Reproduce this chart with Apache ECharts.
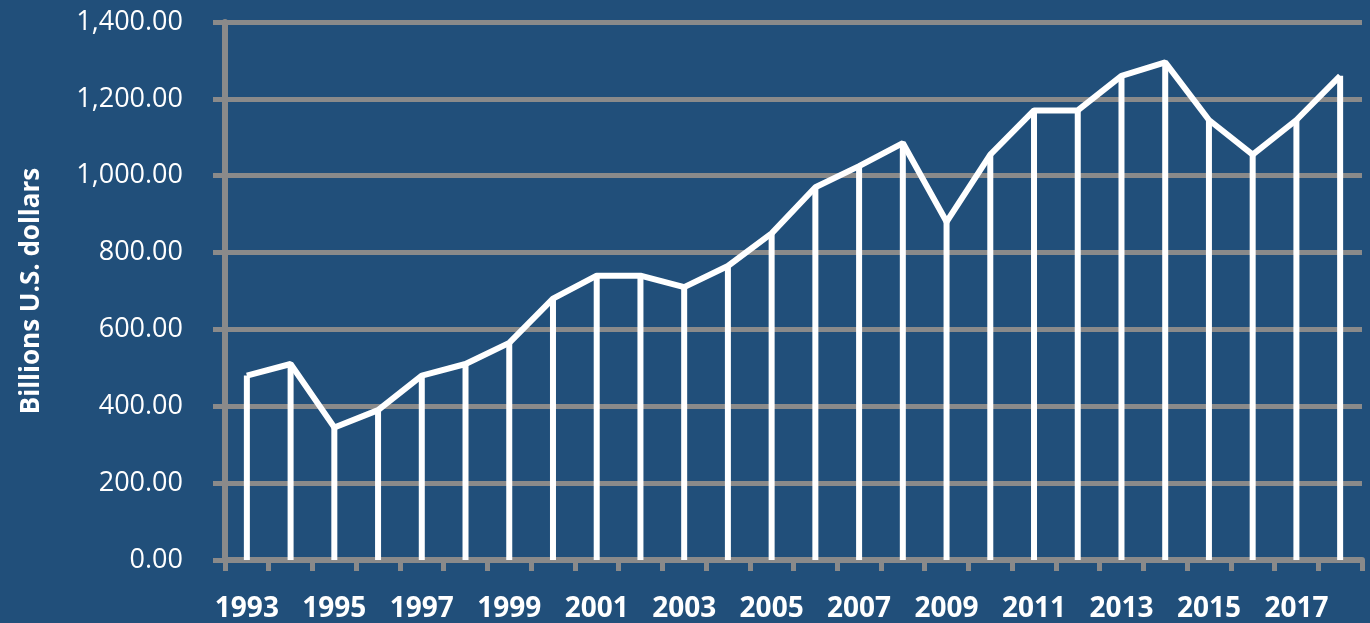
<!DOCTYPE html>
<html>
<head>
<meta charset="utf-8">
<script src="https://cdn.jsdelivr.net/npm/echarts@6/dist/echarts.min.js"></script>
<style>
  html, body { margin: 0; padding: 0; background: #214f7a; }
  #chart { width: 1370px; height: 623px; }
</style>
</head>
<body>
<div id="chart"></div>
<script>
  // years on the x axis
  var years = ['1993','1994','1995','1996','1997','1998','1999','2000','2001','2002','2003','2004','2005',
               '2006','2007','2008','2009','2010','2011','2012','2013','2014','2015','2016','2017','2018']
  // billions of U.S. dollars
  var values = [480, 510, 345, 390, 480, 510, 565, 680, 740, 740, 710, 765, 850,
                970, 1025, 1085, 880, 1055, 1170, 1170, 1260, 1295, 1145, 1055, 1145, 1260]

  var grey = '#8a8a8a'
  var chart = echarts.init(document.getElementById('chart'))
  var option = {
    backgroundColor: '#214f7a',
    animation: false,
    grid: { left: 225, right: 8, top: 22, bottom: 63 },
    xAxis: {
      type: 'category',
      data: years,
      boundaryGap: true,
      axisLine: { lineStyle: { color: grey, width: 6 } },
      axisTick: { show: true, interval: 0, length: 11, lineStyle: { color: grey, width: 5 } },
      axisLabel: {
        interval: 1,
        margin: 35,
        color: '#ffffff',
        fontFamily: 'Open Sans',
        fontWeight: 'bold',
        fontSize: 28
      },
      splitLine: { show: false }
    },
    yAxis: {
      type: 'value',
      min: 0,
      max: 1400,
      interval: 200,
      name: 'Billions U.S. dollars',
      nameLocation: 'middle',
      nameGap: 180,
      nameTextStyle: { color: '#ffffff', fontFamily: 'Open Sans', fontWeight: 'bold', fontSize: 26 },
      axisLine: { show: true, lineStyle: { color: grey, width: 6 } },
      axisTick: { show: true, length: 12, lineStyle: { color: grey, width: 5 } },
      axisLabel: {
        margin: 42,
        color: '#ffffff',
        fontFamily: 'Open Sans',
        fontSize: 27,
        formatter: function (v) {
          return v.toLocaleString('en-US', { minimumFractionDigits: 2, maximumFractionDigits: 2 })
        }
      },
      splitLine: { show: true, lineStyle: { color: grey, width: 5 } }
    },
    series: [
      {
        // drop lines from each point to the axis
        type: 'bar',
        data: values,
        barWidth: 6,
        itemStyle: { color: '#ffffff' },
        z: 3
      },
      {
        type: 'line',
        data: values,
        showSymbol: false,
        lineStyle: { color: '#ffffff', width: 6 },
        z: 4
      }
    ]
  }
  chart.setOption(option)
</script>
</body>
</html>
